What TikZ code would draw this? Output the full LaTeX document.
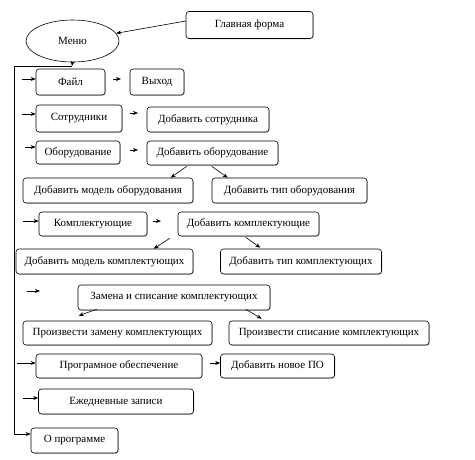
\documentclass[tikz,border=0pt]{standalone}
\usepackage{fontspec}
\setmainfont{Liberation Serif}
\usetikzlibrary{arrows.meta,calc,shadows,shapes.geometric}
\begin{document}
\begin{tikzpicture}[x=1pt,y=-1pt,
  box/.style={draw=black,line width=0.6pt,rounded corners=3pt,fill=white,inner sep=0pt,
    font=\fontsize{11}{12}\selectfont,
    drop shadow={shadow xshift=0.8pt,shadow yshift=-0.8pt,fill=gray!70,opacity=0.6}},
  oval/.style={ellipse,draw=black,line width=0.6pt,fill=white,inner sep=0pt,
    font=\fontsize{11}{12}\selectfont},
  arr/.style={line width=0.6pt,-{Stealth[length=5pt,width=4pt]}},
  ln/.style={line width=0.6pt}]
\useasboundingbox (0,0) rectangle (475,459);
\fill[white] (0,0) rectangle (475,459);

\node[box,minimum width=127pt,minimum height=27pt] (glav) at (249.5,25) {Главная форма};
\node[oval,minimum width=93pt,minimum height=42pt] (menu) at (72.5,41) {Меню};
\node[box,minimum width=69pt,minimum height=26pt] (fail) at (70.5,82) {Файл};
\node[box,minimum width=54pt,minimum height=26pt] (vyhod) at (157,82) {Выход};
\node[box,minimum width=86pt,minimum height=27pt] (sotr) at (79,118.5) {Сотрудники};
\node[box,minimum width=122pt,minimum height=25pt] (addsotr) at (208,119.5) {Добавить сотрудника};
\node[box,minimum width=84pt,minimum height=23pt] (obor) at (78,152.5) {Оборудование};
\node[box,minimum width=131pt,minimum height=24pt] (addobor) at (212.5,153) {Добавить оборудование};
\node[box,minimum width=170pt,minimum height=25pt] (addmodobor) at (108,190.5) {Добавить модель оборудования};
\node[box,minimum width=155pt,minimum height=25pt] (addtipobor) at (289.5,190.5) {Добавить тип оборудования};
\node[box,minimum width=108pt,minimum height=24pt] (kompl) at (93,224) {Комплектующие};
\node[box,minimum width=141pt,minimum height=24pt] (addkompl) at (248.5,224) {Добавить комплектующие};
\node[box,minimum width=177pt,minimum height=25pt] (addmodkompl) at (104.5,261.5) {Добавить модель комплектующих};
\node[box,minimum width=161pt,minimum height=25pt] (addtipkompl) at (301,261.5) {Добавить тип комплектующих};
\node[box,minimum width=192pt,minimum height=25pt] (zamena) at (174,297.5) {Замена и списание комплектующих};
\node[box,minimum width=189pt,minimum height=24pt] (zamenit) at (117.5,333) {Произвести замену комплектующих};
\node[box,minimum width=200pt,minimum height=24pt] (spisat) at (329,333) {Произвести списание комплектующих};
\node[box,minimum width=166pt,minimum height=24pt] (po) at (119,366) {Програмное обеспечение};
\node[box,minimum width=114pt,minimum height=24pt] (addpo) at (277.5,366) {Добавить новое ПО};
\node[box,minimum width=155pt,minimum height=25pt] (ezhedn) at (116,401.5) {Ежедневные записи};
\node[box,minimum width=87pt,minimum height=25pt] (oprog) at (74.5,440.5) {О программе};

% main tree
\draw[arr] ($(glav.west)+(0,-4)$) -- (menu);
\coordinate (j) at (72,66);
\coordinate (jl) at (14,66);
\coordinate (ob) at (14,434);
\draw[arr] (menu.south) -- (j);
\draw[ln] (j) -- (jl) -- (ob);
\draw[arr] (ob) -- (ob -| oprog.west);

% left arrows
\coordinate (la1) at (22,79);
\coordinate (la2) at (22,114);
\coordinate (la3) at (25,147);
\coordinate (la4) at (23,221);
\coordinate (la5) at (27,291);
\coordinate (la5e) at (40,291);
\coordinate (la6) at (17,363);
\coordinate (la7) at (23,398);
\draw[arr] (la1) -- (la1 -| fail.west);
\draw[arr] (la2) -- (la2 -| sotr.west);
\draw[arr] (la3) -- (la3 -| obor.west);
\draw[arr] (la4) -- (la4 -| kompl.west);
\draw[arr] (la5) -- (la5e);
\draw[arr] (la6) -- (la6 -| po.west);
\draw[arr] (la7) -- (la7 -| ezhedn.west);

% short right arrows
\coordinate (ra1) at (113,79);   \coordinate (ra1e) at (121,79);
\coordinate (ra2) at (130,113);  \coordinate (ra2e) at (138,113);
\coordinate (ra3) at (130,150);  \coordinate (ra3e) at (138,150);
\coordinate (ra4) at (153,221);  \coordinate (ra4e) at (161,221);
\coordinate (ra5) at (210,363);
\draw[arr] (ra1) -- (ra1e);
\draw[arr] (ra2) -- (ra2e);
\draw[arr] (ra3) -- (ra3e);
\draw[arr] (ra4) -- (ra4e);
\draw[arr] (ra5) -- (ra5 -| addpo.west);

% diagonal arrows
\draw[arr] ($(addobor.south west)+(40,1)$) -- ($(addmodobor.north west)+(148,0)$);
\draw[arr] ($(addobor.south west)+(65,1)$) -- ($(addtipobor.north west)+(16,0)$);
\draw[arr] ($(addkompl.south west)+(-8,2)$) -- ($(addmodkompl.north west)+(138,0)$);
\draw[arr] ($(addkompl.south west)+(68,1)$) -- ($(addtipkompl.north west)+(40,-1)$);
\draw[arr] ($(zamena.south west)+(19,-1)$) -- ($(zamenit.north west)+(56,-5)$);
\draw[arr] ($(zamena.south west)+(168,-1)$) -- ($(spisat.north west)+(33,-2)$);
\end{tikzpicture}
\end{document}
